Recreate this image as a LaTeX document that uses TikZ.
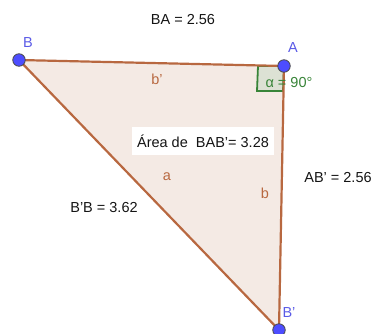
\documentclass[tikz,border=0pt]{standalone}
\usepackage{fontspec}
\setmainfont{Liberation Sans}
\definecolor{edge}{RGB}{184,104,64}
\definecolor{tri}{RGB}{244,234,228}
\definecolor{pt}{RGB}{77,77,255}
\definecolor{ptlab}{RGB}{90,90,230}
\definecolor{ang}{RGB}{56,132,56}
\definecolor{angfill}{RGB}{220,225,212}
\definecolor{txt}{RGB}{20,20,20}
\tikzset{
  fnt/.style={font=\fontsize{14.5}{14.5}\selectfont},
  vertex/.style={circle,fill=pt,draw=black!70,line width=0.8pt,inner sep=0pt,minimum size=12.5pt},
  vlab/.style={fnt,text=ptlab,inner sep=0pt},
  elab/.style={fnt,text=edge,inner sep=0pt},
  mlab/.style={fnt,text=txt,inner sep=0pt},
  side/.style={draw=edge,line width=2.2pt}
}
\begin{document}
\begin{tikzpicture}[x=1pt,y=-1pt]
\useasboundingbox (0,0) rectangle (373,333);
\coordinate (B) at (19,60);
\coordinate (A) at (284,66);
\coordinate (Bp) at (279,330);
\fill[tri] (B) -- (A) -- (Bp) -- cycle;
\draw[ang,fill=angfill,line width=1.8pt] (A) -- (258,66) -- (257,91) -- (283,91) -- cycle;
\draw[side,line cap=round] (B) -- (A) -- (Bp) -- cycle;
\node[vertex] (nB) at (B) {};
\node[vertex] (nA) at (A) {};
\node[vertex] (nBp) at (Bp) {};
\node[vlab] (lB) at (28,43) {B};
\node[vlab] (lA) at (293,48) {A};
\node[vlab] (lBp) at (289,313) {B'};
\node[elab] (lbp) at (157,79) {b'};
\node[elab] (la) at (167,177) {a};
\node[elab] (lb) at (265,193) {b};
\node[fnt,text=ang,inner sep=0pt] (alpha) at (289,83) {α = 90°};
\node[mlab] (BA) at (183,20) {BA = 2.56};
\node[mlab] (ABp) at (338,178) {AB' = 2.56};
\node[mlab] (BpB) at (104,208) {B'B = 3.62};
\node[mlab,fill=white,minimum width=142pt,minimum height=28pt] (area) at (203,141) {Área de\ \ BAB'= 3.28};
\end{tikzpicture}
\end{document}
